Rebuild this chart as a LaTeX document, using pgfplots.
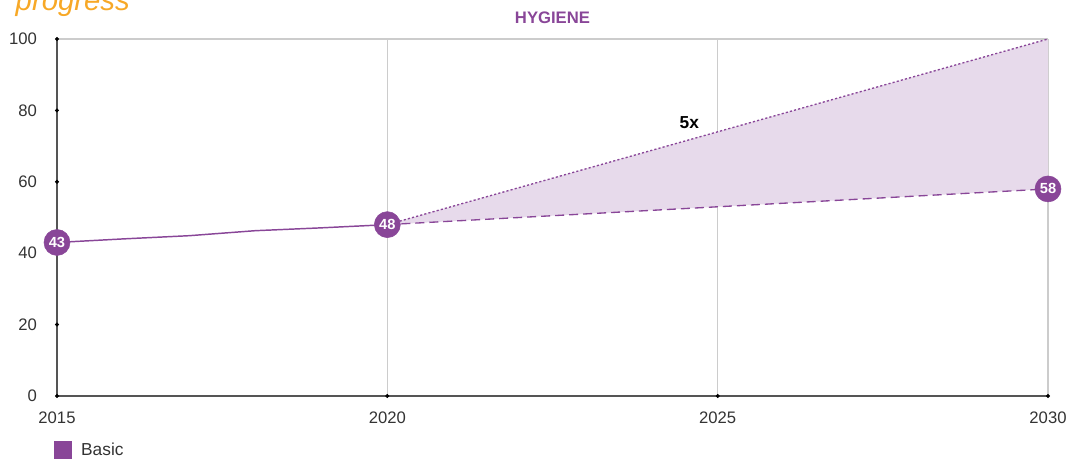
\documentclass[border=0pt]{standalone}
\usepackage{fontspec}
\setmainfont{Liberation Sans}
\usepackage{pgfplots}
\pgfplotsset{compat=1.18}
\usetikzlibrary{calc}
\definecolor{hpurple}{RGB}{137,70,152}
\definecolor{hfill}{RGB}{231,218,235}
\definecolor{hgrid}{RGB}{204,204,204}
\definecolor{haxis}{RGB}{85,85,85}
\definecolor{htext}{RGB}{51,51,51}
\definecolor{horange}{RGB}{247,168,38}

\begin{document}
\begin{tikzpicture}
\begin{axis}[
    scale only axis,
    width=743.25pt, height=267.75pt,
    xmin=2015, xmax=2030, ymin=0, ymax=100,
    xtick={2015,2020,2025,2030},
    ytick={0,20,...,100},
    axis x line*=bottom, axis y line*=left,
    axis line style={haxis, line width=0.9pt, -},
    major tick length=0pt,
    xmajorgrids,
    grid style={hgrid, line width=0.8pt},
    /pgf/number format/1000 sep={},
    /pgf/number format/assume math mode=true,
    tick label style={font=\fontsize{12.5}{14}\selectfont, text=htext},
    yticklabel style={xshift=-11.5pt},
    xticklabel style={yshift=-8.5pt},
    title={HYGIENE},
    title style={font=\bfseries\fontsize{12.5}{14}\selectfont, text=hpurple,
                 at={(0.5,1)}, anchor=south, yshift=2pt},
    clip=false,
    legend style={at={(axis description cs:-0.003,-0.151)}, anchor=west,
                  draw=none, fill=none, inner sep=0pt,
                  font=\fontsize{13}{15}\selectfont, text=htext,
                  /tikz/every odd column/.append style={column sep=5pt}},
    legend cell align=left,
    legend image code/.code={\fill[hpurple] (0pt,-6.4pt) rectangle (12.75pt,6.4pt);},
]
\addlegendimage{hpurple}
\addlegendentry{Basic}

% shaded gap between target pace and current pace
\addplot[fill=hfill, draw=none, forget plot] coordinates {
    (2020,48) (2030,100) (2030,58) (2020,48)
};
\draw[hgrid, line width=0.8pt] (axis cs:2015,100) -- (axis cs:2030,100);

% history
\addplot[hpurple, line width=1.1pt, forget plot] coordinates {
    (2015,43) (2016,44) (2017,44.9) (2018,46.3) (2019,47.1) (2020,48)
};
% current rate
\addplot[hpurple, line width=1pt, dash pattern=on 6.75pt off 3.75pt, forget plot] coordinates {
    (2020,48) (2030,58)
};
% rate needed
\addplot[hpurple, line width=1pt, dash pattern=on 1.6pt off 1.6pt, forget plot] coordinates {
    (2020,48) (2030,100)
};

% tick dots
\addplot[only marks, mark=*, mark size=1.3pt, black, forget plot] coordinates {
    (2015,0) (2015,20) (2015,40) (2015,60) (2015,80) (2015,100)
    (2020,0) (2025,0) (2030,0)
};

% labelled points
\addplot[only marks, mark=*, mark size=9.75pt, hpurple, forget plot,
    point meta=explicit symbolic, nodes near coords,
    every node near coord/.append style={anchor=center, text=white,
        font=\bfseries\fontsize{11}{12}\selectfont}]
    coordinates {(2015,43) [43] (2020,48) [48] (2030,58) [58]};

\node[font=\bfseries\fontsize{13}{15}\selectfont, text=black] at (axis cs:2024.57,76.5) {5x};

\coordinate (bl) at (rel axis cs:0,0);
\coordinate (tr) at (rel axis cs:1,1);
\end{axis}
\node[anchor=base west, font=\itshape\fontsize{22}{26}\selectfont, text=horange]
    at ($(bl |- tr)+(-34.5pt,21pt)$) {progress};
\pgfresetboundingbox
\useasboundingbox ($(bl)+(-42.75pt,-49.5pt)$) rectangle ($(tr)+(14.25pt,29.25pt)$);
\end{tikzpicture}
\end{document}
